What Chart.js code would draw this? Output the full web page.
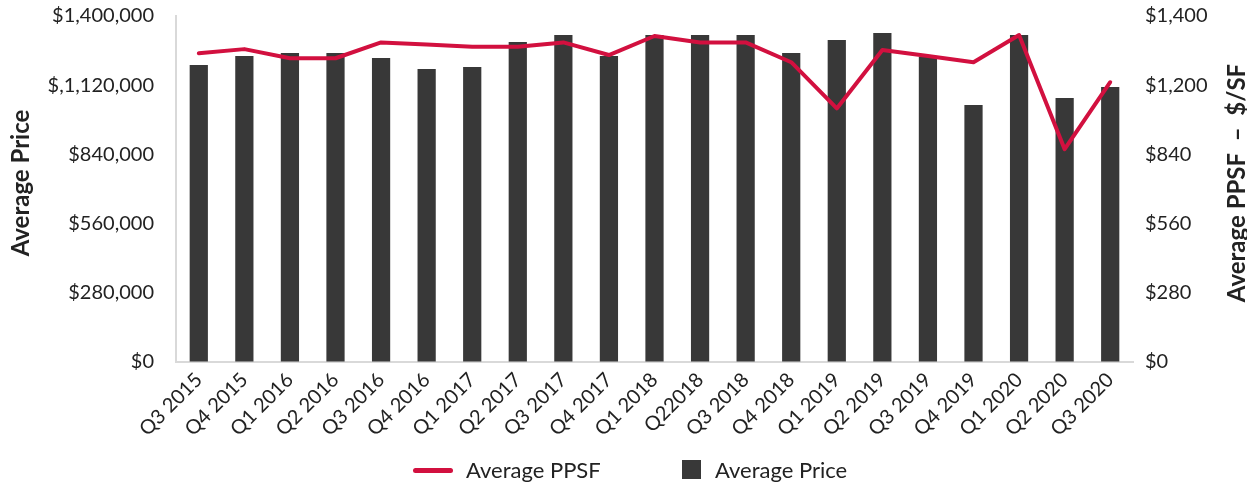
<!DOCTYPE html>
<html>
<head>
<meta charset="utf-8">
<script src="https://cdn.jsdelivr.net/npm/chart.js@4.4.1/dist/chart.umd.min.js"></script>
<style>
  html, body { margin: 0; padding: 0; background: #fff; }
  #wrap { position: relative; width: 1247px; height: 486px; }
  #legend { position: absolute; left: 0; top: 456px; width: 1247px; height: 30px; font-family: Lato, sans-serif; font-size: 22px; color: #222; }
  .sw-line { position: absolute; left: 413px; top: 12px; width: 40px; height: 5px; border-radius: 3px; background: #D2103F; }
  .sw-box { position: absolute; left: 682px; top: 4px; width: 19px; height: 19px; background: #383838; }
  .lt { position: absolute; top: 0px; line-height: 28px; }
</style>
</head>
<body>
<div id="wrap">
  <canvas id="c" width="1247" height="486"></canvas>
  <div id="legend">
    <div class="sw-line"></div><div class="lt" style="left:466px">Average PPSF</div>
    <div class="sw-box"></div><div class="lt" style="left:715px">Average Price</div>
  </div>
</div>
<script>
const categories = ['Q3 2015','Q4 2015','Q1 2016','Q2 2016','Q3 2016','Q4 2016','Q1 2017','Q2 2017','Q3 2017','Q4 2017','Q1 2018','Q22018','Q3 2018','Q4 2018','Q1 2019','Q2 2019','Q3 2019','Q4 2019','Q1 2020','Q2 2020','Q3 2020'];
const averagePrice = [1202000,1238000,1250000,1250000,1230000,1186000,1194000,1295000,1323000,1238000,1323000,1323000,1323000,1250000,1303000,1331000,1234000,1040000,1323000,1068000,1113000];
const averagePPSF = [1249,1266,1229,1229,1293,1285,1276,1276,1293,1242,1319,1293,1293,1213,1026,1262,1238,1213,1323,861,1132];
const leftTickLabels = ['$0','$280,000','$560,000','$840,000','$,1,120,000','$1,400,000'];
const rightTickLabels = ['$0','$280','$560','$840','$1,200','$1,400'];
const leftTitle = 'Average Price';
const rightTitle = 'Average PPSF  \u2013  $/SF';

const FONT = 'Lato, sans-serif';
const TXT = '#222';

const titlePlugin = {
  id: 'titles',
  afterDraw(chart) {
    const ctx = chart.ctx;
    const cy = 183;
    ctx.save();
    ctx.fillStyle = TXT;
    ctx.font = 'bold 24px ' + FONT;
    ctx.textAlign = 'center';
    ctx.textBaseline = 'middle';
    ctx.save();
    ctx.translate(21, cy);
    ctx.rotate(-Math.PI / 2);
    ctx.fillText(leftTitle, 0, 0);
    ctx.restore();
    ctx.save();
    ctx.translate(1237, cy);
    ctx.rotate(-Math.PI / 2);
    ctx.fillText(rightTitle, 0, 0);
    ctx.restore();
    ctx.restore();
  }
};

new Chart(document.getElementById('c'), {
  data: {
    labels: categories,
    datasets: [
      {
        type: 'line',
        label: 'Average PPSF',
        data: averagePPSF,
        yAxisID: 'y1',
        borderColor: '#D2103F',
        backgroundColor: '#D2103F',
        borderWidth: 4,
        pointRadius: 0,
        tension: 0,
        borderCapStyle: 'round',
        borderJoinStyle: 'round',
        order: 0
      },
      {
        type: 'bar',
        label: 'Average Price',
        data: averagePrice,
        yAxisID: 'y',
        backgroundColor: '#383838',
        barPercentage: 0.4,
        categoryPercentage: 1.0,
        order: 1
      }
    ]
  },
  options: {
    responsive: false,
    animation: false,
    layout: { padding: { top: 0, left: 0, right: 0, bottom: 0 } },
    plugins: { legend: { display: false }, tooltip: { enabled: false } },
    scales: {
      x: {
        grid: { display: false, drawTicks: false },
        border: { display: true, color: '#d9d9d9', width: 2 },
        ticks: {
          color: TXT, font: { family: FONT, size: 20 },
          minRotation: 45, maxRotation: 45, autoSkip: false, padding: 6
        },
        afterFit(s) { s.height = 124; }
      },
      y: {
        position: 'left',
        min: 0, max: 1400000,
        grid: { display: true, drawOnChartArea: false, drawTicks: true, tickLength: 18, color: 'rgba(0,0,0,0)' },
        border: { display: true, color: '#d9d9d9', width: 2 },
        ticks: {
          stepSize: 280000, padding: 4,
          color: TXT, font: { family: FONT, size: 20 },
          callback: (v) => leftTickLabels[Math.round(v / 280000)]
        },
        afterFit(s) { s.width = 176; }
      },
      y1: {
        position: 'right',
        min: 0, max: 1400,
        grid: { display: true, drawOnChartArea: false, drawTicks: true, tickLength: 8, color: 'rgba(0,0,0,0)' },
        border: { display: false },
        ticks: {
          stepSize: 280, padding: 4,
          color: TXT, font: { family: FONT, size: 20 },
          callback: (v) => rightTickLabels[Math.round(v / 280)]
        },
        afterFit(s) { s.width = 114; }
      }
    }
  },
  plugins: [titlePlugin]
});
</script>
</body>
</html>
